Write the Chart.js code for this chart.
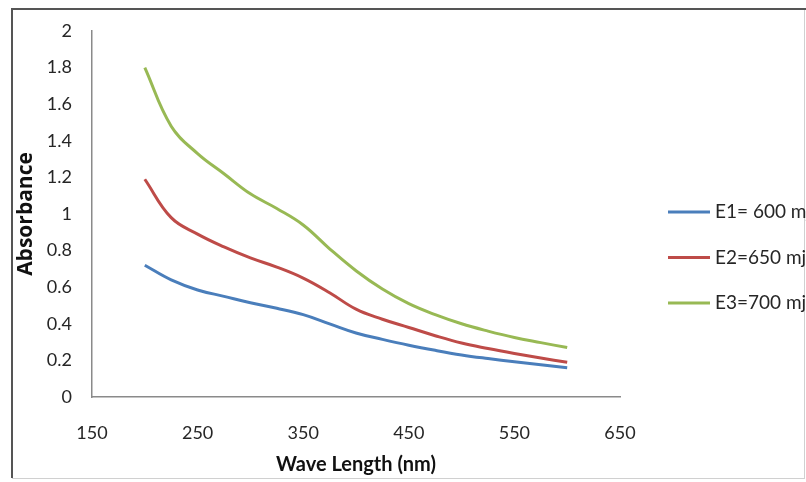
<!DOCTYPE html>
<html>
<head>
<meta charset="utf-8">
<script src="https://cdn.jsdelivr.net/npm/chart.js@4.4.1/dist/chart.umd.min.js"></script>
<style>
html,body{margin:0;padding:0;background:#fff;overflow:hidden;}
#wrap{position:relative;width:806px;height:482px;}
</style>
</head>
<body>
<div id="wrap"><canvas id="c" width="806" height="482"></canvas></div>
<script>
// Wavelength (nm)
const wavelengths = [200, 225, 250, 275, 300, 325, 350, 375, 400, 425, 450, 475, 500, 525, 550, 575, 600];
// Absorbance series
const e1Values = [0.72, 0.64, 0.585, 0.55, 0.515, 0.485, 0.45, 0.40, 0.35, 0.315, 0.283, 0.255, 0.23, 0.21, 0.192, 0.176, 0.16];
const e2Values = [1.19, 0.98, 0.89, 0.82, 0.76, 0.71, 0.65, 0.57, 0.48, 0.425, 0.38, 0.335, 0.295, 0.265, 0.238, 0.213, 0.19];
const e3Values = [1.80, 1.48, 1.33, 1.22, 1.11, 1.03, 0.94, 0.81, 0.69, 0.59, 0.51, 0.45, 0.40, 0.36, 0.325, 0.297, 0.27];
const seriesLabels = ["E1= 600 mj", "E2=650 mj", "E3=700 mj"];
const seriesColors = ["#4A7EBB", "#BE4B48", "#98B954"];
const xTitle = "Wave Length (nm)";
const yTitle = "Absorbance";

const allSeries = [e1Values, e2Values, e3Values];
const datasets = allSeries.map((vals, i) => ({
  label: seriesLabels[i],
  data: wavelengths.map((w, j) => ({x: w, y: vals[j]})),
  borderColor: seriesColors[i],
  backgroundColor: seriesColors[i],
  borderWidth: 3,
  pointRadius: 0,
  tension: 0.4,
  fill: false
}));

const frameAndLegend = {
  id: 'frameAndLegend',
  beforeDraw(chart) {
    const ctx = chart.ctx;
    ctx.save();
    ctx.fillStyle = '#fff';
    ctx.fillRect(0, 0, chart.width, chart.height);
    ctx.strokeStyle = '#d0d0d0';
    ctx.lineWidth = 1;
    ctx.strokeRect(12.5, 9.5, 792, 469);
    ctx.strokeStyle = '#555';
    ctx.lineWidth = 2;
    ctx.beginPath();
    ctx.moveTo(12, 478); ctx.lineTo(12, 9); ctx.lineTo(806, 9);
    ctx.stroke();
    ctx.restore();
  },
  afterDraw(chart) {
    const ctx = chart.ctx;
    ctx.save();
    ctx.font = '19px Lato';
    ctx.textBaseline = 'middle';
    ctx.textAlign = 'left';
    chart.data.datasets.forEach((ds, i) => {
      const y = 212 + i * 45.5;
      ctx.strokeStyle = ds.borderColor;
      ctx.lineWidth = 3;
      ctx.beginPath();
      ctx.moveTo(668, y); ctx.lineTo(710, y);
      ctx.stroke();
      ctx.fillStyle = '#262626';
      ctx.fillText(ds.label, 715, y);
    });
    ctx.restore();
  }
};

const fmt = v => String(Number(v.toFixed(1)));

new Chart(document.getElementById('c'), {
  type: 'line',
  data: { datasets },
  options: {
    responsive: false,
    animation: false,
    layout: { padding: { top: 31, right: 186, left: 0, bottom: 0 } },
    plugins: { legend: { display: false }, tooltip: { enabled: false } },
    scales: {
      x: {
        type: 'linear',
        min: 150, max: 650,
        ticks: { stepSize: 100, color: '#262626', font: { family: 'Lato', size: 18 }, padding: 25, maxRotation: 0, callback: v => String(v) },
        grid: { display: false, drawTicks: false },
        border: { display: true, color: '#8a8a8a', width: 1.5 },
        title: { display: true, text: xTitle, color: '#111', font: { family: 'Lato', size: 20, weight: 'bold' }, padding: { top: 0, bottom: 5 } },
        afterFit(s) { s.height = 85; }
      },
      y: {
        min: 0, max: 2,
        ticks: { stepSize: 0.2, color: '#262626', font: { family: 'Lato', size: 18 }, padding: 20, callback: v => fmt(v) },
        grid: { display: false, drawTicks: false },
        border: { display: true, color: '#8a8a8a', width: 1.5 },
        title: { display: true, text: yTitle, color: '#111', font: { family: 'Open Sans', size: 21, weight: 'bold' }, padding: { top: 13, bottom: 0 } },
        afterFit(s) { s.width = 92; }
      }
    }
  },
  plugins: [frameAndLegend]
});
</script>
</body>
</html>
